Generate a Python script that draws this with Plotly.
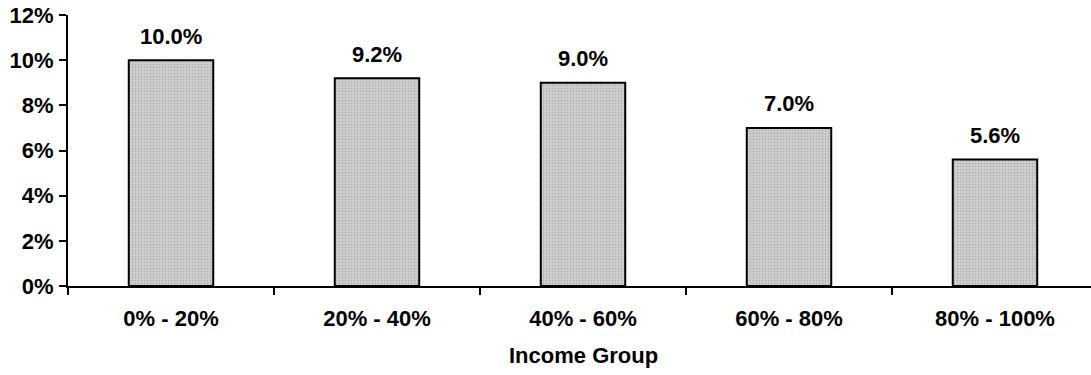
import plotly.graph_objects as go

# Income quintiles and their share values (percent)
income_groups = ["0% - 20%", "20% - 40%", "40% - 60%", "60% - 80%", "80% - 100%"]
shares = [10.0, 9.2, 9.0, 7.0, 5.6]
y_tick_values = [0, 2, 4, 6, 8, 10, 12]
y_tick_labels = [f"{v}%" for v in y_tick_values]
x_title = "Income Group"

FONT = dict(family="Liberation Sans, Arial, sans-serif", size=22, color="black", weight="bold")

fig = go.Figure()
fig.add_trace(go.Bar(
    x=income_groups,
    y=shares,
    width=0.41,
    marker=dict(
        color="#c8c8c8",
        line=dict(color="black", width=2),
        pattern=dict(shape=".", fgcolor="#8c8c8c", bgcolor="#d2d2d2", size=3, solidity=0.3),
    ),
    hoverinfo="skip",
))

# value labels above each bar
for cat, v in zip(income_groups, shares):
    fig.add_annotation(
        x=cat, y=v, xref="x", yref="y",
        text=f"{v:.1f}%", showarrow=False,
        yanchor="middle", yshift=24,
        font=FONT,
    )

# axis title centred under the category axis
fig.add_annotation(
    x=(len(income_groups) - 1) / 2, y=0, xref="x", yref="paper",
    text=x_title, showarrow=False,
    yanchor="middle", yshift=-69,
    font=FONT,
)

fig.update_layout(
    width=1091, height=375,
    margin=dict(l=68, r=0, t=15, b=89),
    paper_bgcolor="white", plot_bgcolor="white",
    showlegend=False,
    font=FONT,
)
fig.update_xaxes(
    type="category",
    categoryorder="array", categoryarray=income_groups,
    range=[-0.5, len(income_groups) - 0.5 - 7 / 206],
    tickson="boundaries", ticks="outside", ticklen=7, tickwidth=2, tickcolor="black",
    showline=True, linecolor="black", linewidth=2,
    showgrid=False, zeroline=False,
    ticklabelstandoff=12,
    tickfont=FONT,
)
fig.update_yaxes(
    range=[0, 12],
    tickmode="array", tickvals=y_tick_values, ticktext=y_tick_labels,
    ticks="outside", ticklen=7, tickwidth=2, tickcolor="black",
    showline=True, linecolor="black", linewidth=2,
    showgrid=False, zeroline=False,
    ticklabelstandoff=1,
    tickfont=FONT,
)

fig.write_html("out.html")
